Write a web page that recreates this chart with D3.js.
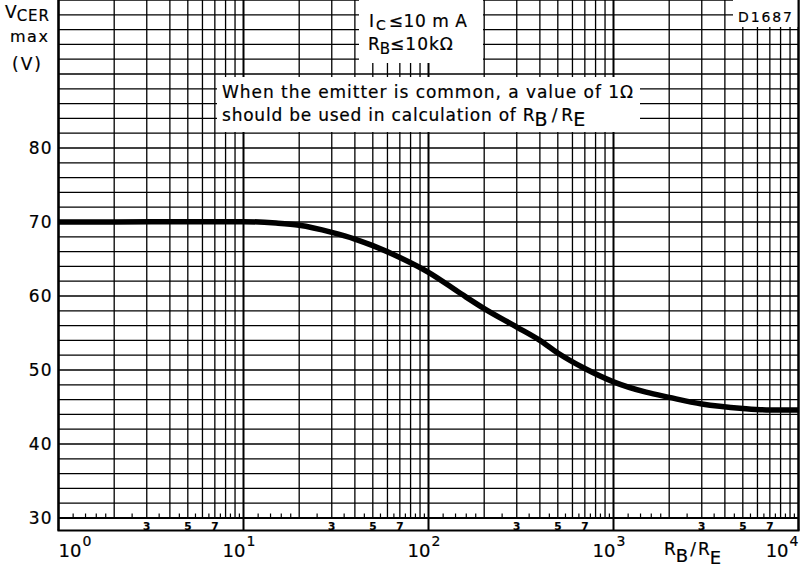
<!DOCTYPE html>
<html>
<head>
<meta charset="utf-8">
<script src="https://cdn.jsdelivr.net/npm/d3@7"></script>
<style>
  html, body { margin: 0; padding: 0; background: #fff; }
  svg { display: block; font-family: "DejaVu Sans", sans-serif; }
  svg text { fill: #000; stroke: #000; stroke-width: 0.2px; }
</style>
</head>
<body>
<svg id="chart" width="802" height="572"></svg>
<script>
// ---- data ----
const rbRe = [1, 2, 5, 10, 15, 20, 30, 40, 50, 70, 100, 150, 200, 300, 400, 500, 700, 1000, 1500, 2000, 3000, 5000, 7000, 10000];
const vcerMax = [70.0, 70.0, 70.05, 70.05, 69.85, 69.55, 68.6, 67.7, 66.8, 65.2, 63.2, 60.3, 58.3, 55.8, 54.0, 52.3, 50.2, 48.4, 47.0, 46.3, 45.4, 44.8, 44.6, 44.6];
const yTickValues = [30, 40, 50, 60, 70, 80];
const xDecades = [1, 10, 100, 1000, 10000];
const xExponents = ["0", "1", "2", "3", "4"];
const stripMultipliers = [3, 5, 7];
const minorTickMultipliers = [1.2, 1.4, 1.6, 1.8, 2.5, 3.5, 4.5, 5.5, 6.5, 7.5, 8.5, 9.5];

const svg = d3.select("#chart");
const x = d3.scaleLog().domain([1, 10000]).range([58.5, 798.5]);
const y = d3.scaleLinear().domain([30, 100]).range([518, 0]);
const stripBottom = 530.5;

// ---- grid ----
const grid = svg.append("g");
grid.selectAll("line.h").data(d3.range(30, 101, 2)).join("line")
  .attr("x1", x(1)).attr("x2", x(10000))
  .attr("y1", d => y(d)).attr("y2", d => y(d))
  .attr("stroke", "#000").attr("stroke-width", d => d % 10 === 0 ? 1.6 : 1.2);
const vt = x.ticks();
grid.selectAll("line.v").data(vt).join("line")
  .attr("x1", d => x(d)).attr("x2", d => x(d))
  .attr("y1", 0)
  .attr("y2", d => xDecades.includes(d) ? stripBottom : y(30))
  .attr("stroke", "#000")
  .attr("stroke-width", d => xDecades.includes(d) ? 2 : 1.3);
const mt = [];
xDecades.slice(0, 4).forEach(dec => minorTickMultipliers.forEach(m => mt.push(dec * m)));
grid.selectAll("line.mt").data(mt).join("line")
  .attr("x1", d => x(d)).attr("x2", d => x(d))
  .attr("y1", y(30) - 4.5).attr("y2", y(30))
  .attr("stroke", "#000").attr("stroke-width", 1.2);
grid.append("line").attr("x1", x(1)).attr("x2", x(10000)).attr("y1", y(30)).attr("y2", y(30))
  .attr("stroke", "#000").attr("stroke-width", 2);
grid.append("line").attr("x1", x(1) - 1).attr("x2", x(10000) + 1).attr("y1", stripBottom).attr("y2", stripBottom)
  .attr("stroke", "#000").attr("stroke-width", 1.8);
grid.append("line").attr("x1", x(1)).attr("x2", x(1)).attr("y1", 0).attr("y2", stripBottom)
  .attr("stroke", "#000").attr("stroke-width", 2.2);

// strip labels 3 5 7
const stripData = [];
xDecades.slice(0, 4).forEach(dec => stripMultipliers.forEach(m => stripData.push({v: dec * m, t: String(m)})));
svg.append("g").selectAll("text").data(stripData).join("text")
  .attr("x", d => x(d.v)).attr("y", 529.5)
  .attr("text-anchor", "middle")
  .attr("font-size", 10.5).attr("font-weight", "bold")
  .text(d => d.t);

// ---- annotation boxes ----
const boxes = svg.append("g");
boxes.append("rect").attr("x", 359).attr("y", 0).attr("width", 124).attr("height", 63).attr("fill", "#fff");
boxes.append("rect").attr("x", 733).attr("y", 0).attr("width", 65).attr("height", 27).attr("fill", "#fff");
boxes.append("rect").attr("x", 217).attr("y", 77).attr("width", 423).attr("height", 55).attr("fill", "#fff");

const t1 = svg.append("text").attr("x", 369).attr("y", 27).attr("font-size", 17);
t1.append("tspan").text("I");
t1.append("tspan").attr("font-size", 14).attr("dy", 3).attr("dx", 2).text("C");
t1.append("tspan").attr("dy", -3).attr("dx", 3).attr("textLength", 78).attr("lengthAdjust", "spacing").text("≤10 m A");
const t2 = svg.append("text").attr("x", 368).attr("y", 50).attr("font-size", 17);
t2.append("tspan").text("R");
t2.append("tspan").attr("font-size", 15).attr("dy", 4).text("B");
t2.append("tspan").attr("dy", -4).attr("letter-spacing", 1).text("≤10kΩ");

svg.append("text").attr("x", 738).attr("y", 22).attr("font-size", 14)
  .attr("textLength", 54).attr("lengthAdjust", "spacing").text("D1687");

svg.append("text").attr("x", 222).attr("y", 98).attr("font-size", 17)
  .attr("textLength", 411).attr("lengthAdjust", "spacing")
  .text("When the emitter is common, a value of 1Ω");
const n2 = svg.append("text").attr("x", 222).attr("y", 121).attr("font-size", 17);
n2.append("tspan").attr("textLength", 300).attr("lengthAdjust", "spacing").text("should be used in calculation of ");
n2.append("tspan").text("R");
n2.append("tspan").attr("font-size", 19).attr("dy", 5).text("B");
n2.append("tspan").attr("dy", -5).attr("dx", 4).text("/");
n2.append("tspan").attr("dx", 4).text("R");
n2.append("tspan").attr("font-size", 19).attr("dy", 5).text("E");

// ---- curve ----
const line = d3.line().x((d, i) => x(rbRe[i])).y(d => y(d)).curve(d3.curveMonotoneX);
svg.append("path").datum(vcerMax).attr("d", line)
  .attr("fill", "none").attr("stroke", "#000").attr("stroke-width", 5.5)
  .attr("stroke-linejoin", "round").attr("stroke-linecap", "butt");

svg.append("line").attr("x1", x(10000)).attr("x2", x(10000)).attr("y1", 0).attr("y2", stripBottom)
  .attr("stroke", "#000").attr("stroke-width", 2);

// ---- y axis labels ----
const yAxis = d3.axisLeft(y).tickValues(yTickValues).tickSize(0).tickPadding(6).tickFormat(d3.format("d"));
const ya = svg.append("g").attr("transform", `translate(${x(1)},0)`).call(yAxis);
ya.select(".domain").remove();
ya.selectAll("text").attr("font-size", 17).attr("font-family", "DejaVu Sans, sans-serif")
  .attr("letter-spacing", 1);

const yt = svg.append("text").attr("x", 5).attr("y", 18).attr("font-size", 17);
yt.append("tspan").text("V");
yt.append("tspan").attr("font-size", 15).attr("dy", 3).attr("letter-spacing", 1).text("CER");
svg.append("text").attr("x", 10).attr("y", 42).attr("font-size", 16).attr("letter-spacing", 1.5).text("max");
svg.append("text").attr("x", 12).attr("y", 70).attr("font-size", 17).attr("letter-spacing", 2).text("(V)");

// ---- x labels ----
const xl = svg.append("g");
xDecades.forEach((d, i) => {
  const g = xl.append("g");
  const base = g.append("text").attr("y", 557).attr("font-size", 18).text("10");
  const sup = g.append("text").attr("y", 546).attr("font-size", 14).text(xExponents[i]);
  const bw = base.node().getComputedTextLength();
  const sw = sup.node().getComputedTextLength();
  let bx;
  if (i === 0) bx = x(d);
  else if (i === xDecades.length - 1) bx = x(d) - sw - 1 - bw;
  else bx = x(d) + 2 - bw;
  base.attr("x", bx);
  sup.attr("x", bx + bw + 1);
});
const xt = svg.append("text").attr("x", 664).attr("y", 555).attr("font-size", 17);
xt.append("tspan").text("R");
xt.append("tspan").attr("font-size", 18).attr("dy", 7).text("B");
xt.append("tspan").attr("dy", -7).attr("dx", 2).text("/");
xt.append("tspan").attr("dx", 2).text("R");
xt.append("tspan").attr("font-size", 18).attr("dy", 9).text("E");
</script>
</body>
</html>
